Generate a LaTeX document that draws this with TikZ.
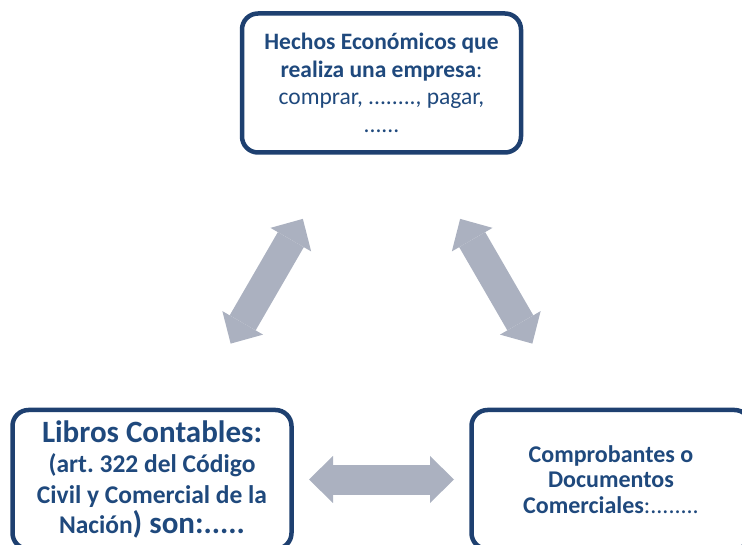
\documentclass[tikz,border=0pt]{standalone}
\usepackage{fontspec}
\setmainfont{Carlito}
\usepackage{tikz}
\usetikzlibrary{arrows.meta}
\definecolor{azul}{RGB}{31,73,125}
\definecolor{borde}{RGB}{30,64,112}
\definecolor{gris}{RGB}{171,177,192}
\frenchspacing

\begin{document}
\begin{tikzpicture}[x=1pt,y=1pt,
        caja/.style={rectangle, rounded corners=16pt, draw=borde,
                        line width=4.5pt, fill=white, text=azul, align=center,
                        minimum width=279pt, minimum height=139pt, inner sep=0pt},
        punta/.tip={Triangle[width=47pt,length=24pt,line width=0pt]},
        flecha/.style={draw=gris, line width=30pt, punta-punta,
                        shorten <=157pt, shorten >=157pt}]
            \useasboundingbox (0,0) rectangle (742,544);
            \clip (0,0) rectangle (742,544);

            \node[caja, font=\fontsize{23.5}{27.5}\selectfont] (hechos) at (381.5,461)
                {\textbf{Hechos Económicos que}\\
                 \textbf{realiza una empresa}:\\
                 comprar, ........, pagar,\\
                 ......};
            \node[caja, font=\bfseries\fontsize{25.5}{30.5}\selectfont] (libros) at (152,64.5)
                {{\fontsize{31}{30.5}\selectfont Libros Contables:}\\
                 (art. 322 del Código\\
                 Civil y Comercial de la\\
                 Nación{\fontsize{31}{30.5}\selectfont) son:.....}};
            \node[caja, font=\fontsize{24}{25.5}\selectfont] (comprobantes) at (611,64.5)
                {\textbf{Comprobantes o}\\
                 \textbf{Documentos}\\
                 \textbf{Comerciales}:........};

            \draw[flecha] (hechos.center) -- (libros.center);
            \draw[flecha] (hechos.center) -- (comprobantes.center);
            \draw[flecha] (libros.center) -- (comprobantes.center);
        \end{tikzpicture}
\end{document}
